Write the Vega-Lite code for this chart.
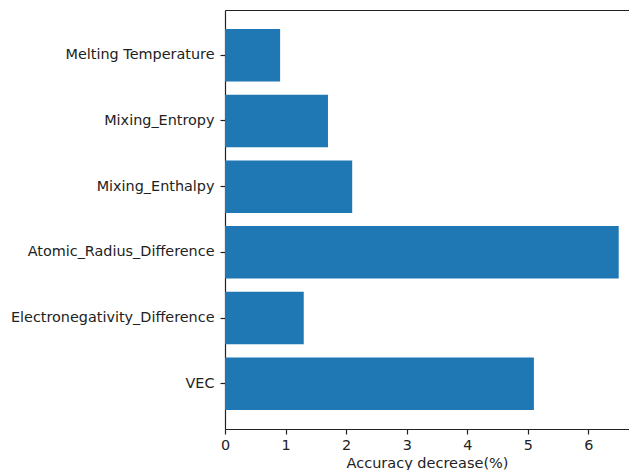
{
  "$schema": "https://vega.github.io/schema/vega-lite/v6.json",
  "autosize": {"type": "none"},
  "padding": {"left": 225, "top": 10, "right": 0, "bottom": 41},
  "width": 404,
  "height": 419,
  "background": "white",
  "config": {
    "view": {"stroke": null},
    "font": "DejaVu Sans",
    "axis": {
      "domainColor": "#222222",
      "tickColor": "#222222",
      "labelColor": "#222222",
      "titleColor": "#222222",
      "labelFont": "DejaVu Sans",
      "titleFont": "DejaVu Sans",
      "labelFontSize": 14.4,
      "titleFontSize": 14.5,
      "titleFontWeight": "normal",
      "labelLimit": 400,
      "grid": false,
      "tickSize": 5,
      "domainWidth": 1.2,
      "tickWidth": 1.2
    }
  },
  "data": {
    "values": [
      {"feature": "Melting Temperature", "decrease": 0.91},
      {"feature": "Mixing_Entropy", "decrease": 1.7},
      {"feature": "Mixing_Enthalpy", "decrease": 2.1},
      {"feature": "Atomic_Radius_Difference", "decrease": 6.5},
      {"feature": "Electronegativity_Difference", "decrease": 1.3},
      {"feature": "VEC", "decrease": 5.1}
    ]
  },
  "encoding": {
    "y": {
      "field": "feature",
      "type": "nominal",
      "sort": null,
      "scale": {"paddingInner": 0.2, "paddingOuter": 0.29},
      "axis": {"title": null, "labelPadding": 6, "labelAngle": 0}
    }
  },
  "layer": [
    {
      "mark": {"type": "bar", "color": "#1f77b4"},
      "encoding": {
        "x": {
          "field": "decrease",
          "type": "quantitative",
          "scale": {"domain": [0, 6.67], "nice": false, "zero": true},
          "axis": {
            "title": "Accuracy decrease(%)",
            "values": [0, 1, 2, 3, 4, 5, 6],
            "format": "d",
            "labelFlush": false,
            "labelPadding": 4,
            "titlePadding": 5
          }
        }
      }
    },
    {
      "mark": {"type": "bar", "opacity": 0},
      "encoding": {
        "x": {
          "field": "decrease",
          "type": "quantitative",
          "scale": {"domain": [0, 6.67], "nice": false, "zero": true},
          "axis": {
            "orient": "top",
            "title": null,
            "labels": false,
            "ticks": false,
            "domain": true
          }
        }
      }
    }
  ],
  "resolve": {"axis": {"x": "independent"}}
}
